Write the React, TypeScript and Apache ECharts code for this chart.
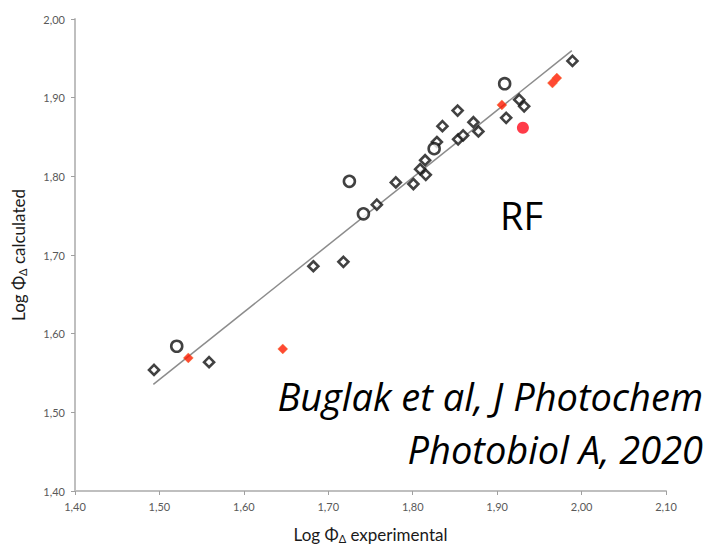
import React, { useEffect, useRef } from "react";
import * as echarts from "echarts";

// Open diamonds (black)
const diamondX = [1.4936, 1.5588, 1.6823, 1.7179, 1.7575, 1.780, 1.8008, 1.8088, 1.8155, 1.8147, 1.8286, 1.8352, 1.8532, 1.8538, 1.8597, 1.8719, 1.8778, 1.9107, 1.9261, 1.932, 1.9892];
const diamondY = [1.5539, 1.5638, 1.6857, 1.6913, 1.764, 1.7923, 1.7902, 1.8091, 1.8019, 1.8205, 1.8436, 1.8638, 1.8836, 1.847, 1.852, 1.8688, 1.8571, 1.8744, 1.8975, 1.889, 1.9467];
// Open circles (black)
const circleX = [1.5205, 1.725, 1.7416, 1.8254, 1.9089];
const circleY = [1.584, 1.7936, 1.7523, 1.8352, 1.9177];
// Red filled diamonds
const redDiamondX = [1.5342, 1.6461, 1.9056, 1.9655, 1.9707];
const redDiamondY = [1.5692, 1.5806, 1.8908, 1.9186, 1.9249];
// Red filled circle
const redCircleX = [1.9305];
const redCircleY = [1.8617];
// Trend line end points
const trendX = [1.4928, 1.9885];
const trendY = [1.5355, 1.9597];

const xTicks = { min: 1.4, max: 2.1, interval: 0.1 };
const yTicks = { min: 1.4, max: 2.0, interval: 0.1 };

const zip = (a: number[], b: number[]) => a.map((v, i) => [v, b[i]]);
const fmt = (v: number) => v.toFixed(2).replace(".", ",");

export default function App() {
  const ref = useRef<HTMLDivElement>(null);
  useEffect(() => {
    if (!ref.current) return;
    const chart = echarts.init(ref.current, undefined, { renderer: "svg" });
    const axisName = {
      fontFamily: "Lato, 'Noto Sans', sans-serif",
      fontSize: 17,
      color: "#1a1a1a",
      rich: {
        sub: { fontSize: 11, verticalAlign: "bottom", padding: [8, 0, 0, 0], color: "#1a1a1a", fontFamily: "Lato, 'Noto Sans', sans-serif" },
      },
    };
    const bigText = (text: string, y: number) => ({
      type: "text",
      x: 703,
      y,
      style: {
        text,
        fontSize: 38,
        fontStyle: "italic",
        fontFamily: "'Open Sans', 'Noto Sans', sans-serif",
        fill: "#000000",
        align: "right",
        verticalAlign: "middle",
      },
    });
    chart.setOption({
      animation: false,
      backgroundColor: "#ffffff",
      grid: { left: 75, right: 43, top: 19, bottom: 55, containLabel: false },
      xAxis: {
        type: "value",
        min: xTicks.min,
        max: xTicks.max,
        interval: xTicks.interval,
        name: "Log Φ{sub|Δ} experimental",
        nameLocation: "middle",
        nameGap: 34,
        nameTextStyle: axisName,
        axisLine: { show: true, lineStyle: { color: "#bfbfbf", width: 2 } },
        axisTick: { show: true, length: 4, lineStyle: { color: "#a0a0a0" } },
        splitLine: { show: false },
        axisLabel: { formatter: fmt, color: "#595959", fontSize: 11, fontFamily: "Lato, sans-serif", margin: 10 },
      },
      yAxis: {
        type: "value",
        min: yTicks.min,
        max: yTicks.max,
        interval: yTicks.interval,
        name: "Log Φ{sub|Δ} calculated",
        nameLocation: "middle",
        nameGap: 47,
        nameTextStyle: axisName,
        axisLine: { show: true, lineStyle: { color: "#bfbfbf", width: 2 } },
        axisTick: { show: true, length: 4, lineStyle: { color: "#a0a0a0" } },
        splitLine: { show: false },
        axisLabel: { formatter: fmt, color: "#595959", fontSize: 11, fontFamily: "Lato, sans-serif", margin: 10 },
      },
      series: [
        {
          type: "line",
          data: zip(trendX, trendY),
          symbol: "none",
          lineStyle: { color: "#8c8c8c", width: 1.5 },
          z: 1,
        },
        {
          type: "scatter",
          data: zip(diamondX, diamondY),
          symbol: "diamond",
          symbolSize: 10,
          itemStyle: { color: "#ffffff", borderColor: "#111111", borderWidth: 2.6 },
          z: 2,
        },
        {
          type: "scatter",
          data: zip(circleX, circleY),
          symbol: "circle",
          symbolSize: 11,
          itemStyle: { color: "#ffffff", borderColor: "#111111", borderWidth: 2.6 },
          z: 2,
        },
        {
          type: "scatter",
          data: zip(redDiamondX, redDiamondY),
          symbol: "diamond",
          symbolSize: 10,
          itemStyle: { color: "#ff1a00", borderColor: "#f08030", borderWidth: 0.5 },
          z: 3,
        },
        {
          type: "scatter",
          data: zip(redCircleX, redCircleY),
          symbol: "circle",
          symbolSize: 12,
          itemStyle: { color: "#ff0a1a" },
          z: 3,
        },
      ],
      graphic: [
        {
          type: "text",
          x: 500,
          y: 215,
          style: {
            text: "RF",
            fontSize: 38,
            fontFamily: "'Open Sans', 'Noto Sans', sans-serif",
            fill: "#000000",
            verticalAlign: "middle",
          },
        },
        bigText("Buglak et al, J Photochem", 396),
        bigText("Photobiol A, 2020", 449),
      ],
    });
    return () => chart.dispose();
  }, []);
  return <div ref={ref} style={{ width: 709, height: 549, position: "absolute", left: 0, top: 0 }} />;
}
